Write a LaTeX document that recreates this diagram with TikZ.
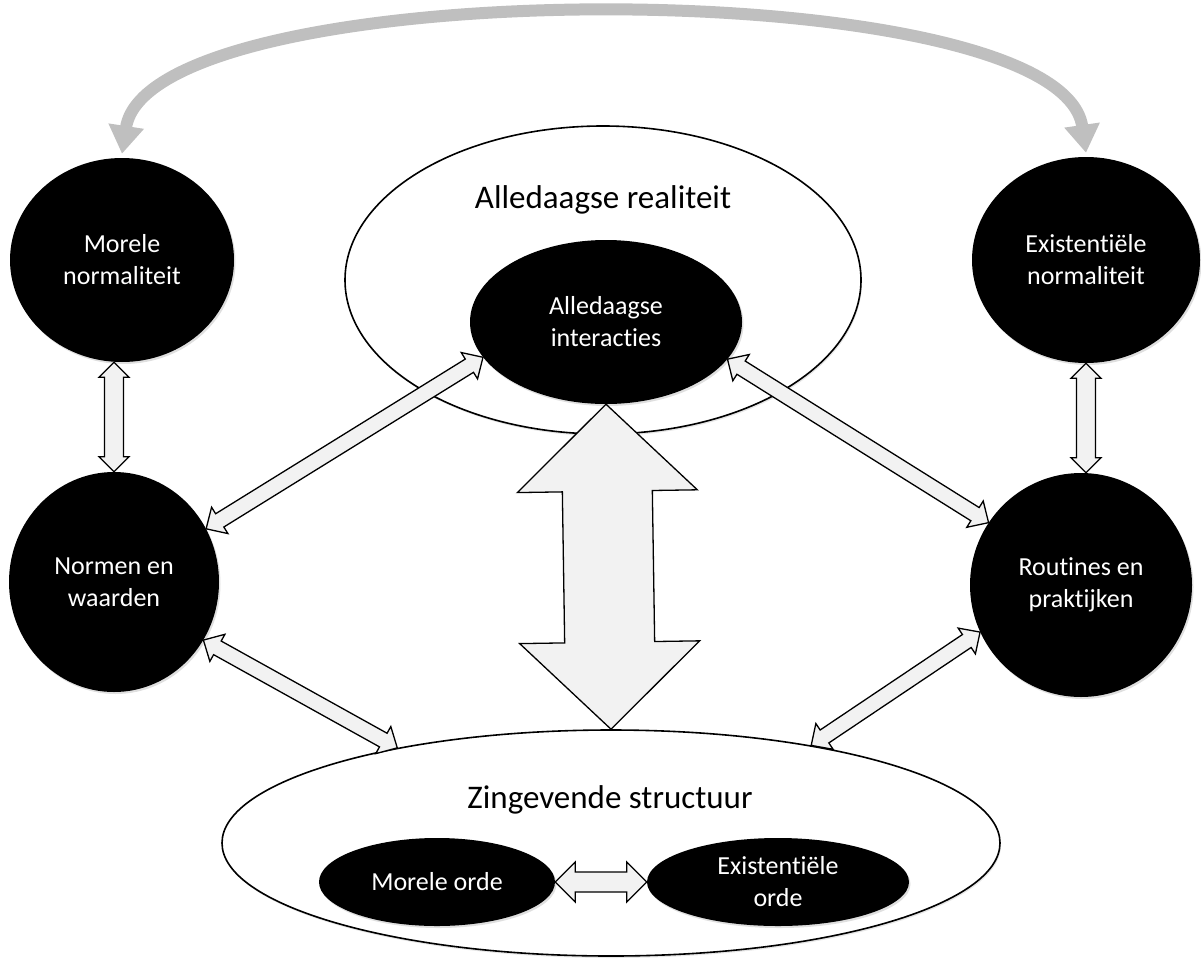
\documentclass[tikz,border=0pt]{standalone}
\usepackage{fontspec}
\setmainfont[Ligatures=NoCommon]{Carlito}
\newcommand\nl{\kern0pt}
\usetikzlibrary{shapes.geometric,calc,arrows.meta,shadows}
\tikzset{
  blk/.style={ellipse, fill=black, text=white, inner sep=0pt, align=center,
    font=\fontsize{26}{32}\selectfont,
    drop shadow={opacity=0.25, shadow xshift=1.5pt, shadow yshift=-2pt}},
  outl/.style={ellipse, draw=black, line width=1.6pt, fill=white, inner sep=0pt,
    drop shadow={opacity=0.2, shadow xshift=1pt, shadow yshift=-2pt}},
  dblarrow/.style={draw=black, line width=1.3pt, fill=black!5, line join=miter},
  grayarc/.style={draw=black!25, line width=12pt,
    {Triangle[length=28pt,width=34pt]}-{Triangle[length=28pt,width=34pt]}},
  titletext/.style={font=\fontsize{33}{40}\selectfont, inner sep=0pt}
}
% #1 from, #2 to, #3 half shaft, #4 half head, #5 head length
\newcommand\dblarr[5]{%
  \coordinate (hA) at ($(#1)!#5!(#2)$);
  \coordinate (hB) at ($(#2)!#5!(#1)$);
  \draw[dblarrow] (#1) -- ($(hA)!#4!90:(#2)$) -- ($(hA)!#3!90:(#2)$)
    -- ($(hB)!#3!-90:(#1)$) -- ($(hB)!#4!-90:(#1)$) -- (#2)
    -- ($(hB)!#4!90:(#1)$) -- ($(hB)!#3!90:(#1)$)
    -- ($(hA)!#3!-90:(#2)$) -- ($(hA)!#4!-90:(#2)$) -- cycle;}
\begin{document}
\begin{tikzpicture}[x=1pt,y=-1pt]
\useasboundingbox (0,0) rectangle (1201,958);
% big outline ellipses
\node[outl, minimum width=516pt, minimum height=308pt] (ar) at (603,280) {};
\node[titletext] (art) at (603,200) {Alledaagse realiteit};
\node[outl, minimum width=778pt, minimum height=226pt] (zs) at (611,843) {};
\node[titletext] (zst) at (610,800) {Zingevende structuur};
% black nodes
\node[blk, minimum width=224pt, minimum height=204pt] (mn) at (122,260) {Morele\\normaliteit};
\node[blk, minimum width=228pt, minimum height=206pt] (en) at (1086,260) {Existent\nl iële\\normaliteit};
\node[blk, minimum width=210pt, minimum height=220pt] (nw) at (114,582) {Normen en\\waarden};
\node[blk, minimum width=222pt, minimum height=224pt] (rp) at (1081,585) {Routines en\\praktijken};
\node[blk, minimum width=272pt, minimum height=164pt] (ai) at (606,322) {Alledaagse\\interact\nl ies};
\node[blk, minimum width=236pt, minimum height=88pt] (mo) at (437,882) {Morele orde};
\node[blk, minimum width=262pt, minimum height=88pt] (eo) at (778,882) {Existent\nl iële\\orde};
% top gray arc
\draw[grayarc] ([yshift=4pt]mn.north) .. controls (150,-30) and (1060,-30) .. ([yshift=4pt]en.north);
% helper coordinates
\coordinate (v1a) at (nw.north |- mn.south);
\coordinate (v1b) at (nw.north);
\coordinate (v2a) at (en.south);
\coordinate (v2b) at (en.south |- rp.north);
% double arrows
\dblarr{v1a}{v1b}{9.5pt}{15pt}{15pt}
\dblarr{v2a}{v2b}{9.5pt}{15pt}{15pt}
\dblarr{nw.30}{ai.196}{7.8pt}{15.5pt}{16pt}
\dblarr{ai.343}{rp.146}{7.8pt}{15.5pt}{16pt}
\dblarr{nw.327}{zs.156}{7.8pt}{15.5pt}{16pt}
\dblarr{rp.205}{zs.26}{7.8pt}{15.5pt}{16pt}
\dblarr{ai.south}{zs.north}{45pt}{90pt}{87pt}
\dblarr{mo.east}{eo.west}{10pt}{20pt}{20pt}
\end{tikzpicture}
\end{document}
